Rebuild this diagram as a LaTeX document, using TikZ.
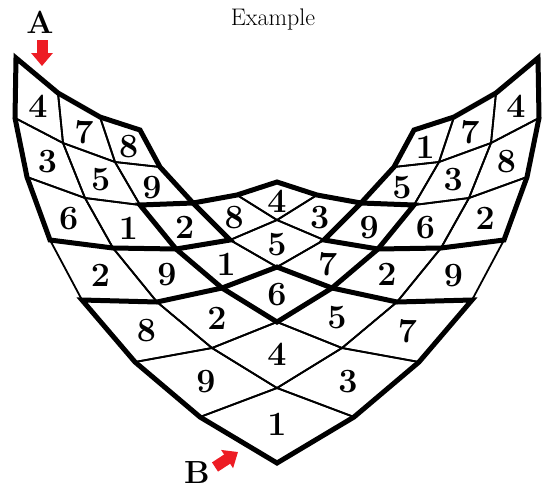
\documentclass[tikz,border=0pt]{standalone}
\usepackage{fontspec}
\usetikzlibrary{arrows.meta,calc}
\definecolor{arrowRed}{RGB}{237,28,36}

% grid corners of the left half (row i, column j, x, y in pixels)
\def\halfGrid{%
    0/0/277/463, 1/0/200/417, 1/1/277/388,
    2/0/135/362, 2/1/212/348, 2/2/277/322,
    3/0/82/300, 3/1/157/302, 3/2/222/288, 3/3/277/267,
    4/0/50/240, 4/1/113/248, 4/2/176/249, 4/3/230/240, 4/4/277/220,
    5/0/27/177, 5/1/85/198, 5/2/140/205, 5/3/193/203, 5/4/237/195, 5/5/277/182,
    6/0/15/118, 6/1/63/143, 6/2/115/162, 6/3/160/167,
    7/0/16/58, 7/1/58/93, 7/2/100/117, 7/3/140/130}

\begin{document}
\begin{tikzpicture}[
            x=1pt, y=-1pt,
            gridThin/.style={
                    draw=black,
                    line width=1.8pt,
                    line join=round
                },
            blockEdge/.style={
                    draw=black,
                    line width=5pt,
                    line join=miter
                },
            digit/.style={
                    font=\fontsize{34}{34}\selectfont\bfseries,
                    inner sep=0pt,
                    yshift=-3pt
                },
            letter/.style={
                    font=\fontsize{32}{32}\selectfont\bfseries,
                    inner sep=0pt,
                    anchor=base
                },
            title/.style={
                    font=\fontsize{24}{24}\selectfont,
                    inner sep=0pt,
                    anchor=base
                },
            marker/.style={
                    -{Triangle[length=13pt, width=21pt]},
                    color=arrowRed,
                    line width=11pt
                }
            ]
            \useasboundingbox (0,0) rectangle (551,488);

            % 1. Grid corners (left half, then mirrored)
            \foreach \i/\j/\x/\y in \halfGrid
                \coordinate (p-\i-\j) at (\x,\y);
            \begin{scope}[xshift=554pt, xscale=-1]
                \foreach \i/\j/\x/\y in \halfGrid
                    \coordinate (p-\j-\i) at (\x,\y);
            \end{scope}

            % 2. Cells with their numbers
            \foreach \i/\j/\val [evaluate=\i as \ia using int(\i+1), evaluate=\j as \ja using int(\j+1)] in {
                    0/0/1, 1/0/9, 2/0/8, 3/0/2, 4/0/6, 5/0/3, 6/0/4,
                    0/1/3, 1/1/4, 2/1/2, 3/1/9, 4/1/1, 5/1/5, 6/1/7,
                    0/2/7, 1/2/5, 2/2/6, 3/2/1, 4/2/2, 5/2/9, 6/2/8,
                    0/3/9, 0/4/2, 0/5/8, 0/6/4,
                    1/3/2, 1/4/6, 1/5/3, 1/6/7,
                    2/3/7, 2/4/9, 2/5/5, 2/6/1,
                    3/3/5, 3/4/3, 4/3/8, 4/4/4}{
                \draw[gridThin] (p-\i-\j) -- (p-\ia-\j) -- (p-\ia-\ja) -- (p-\i-\ja) -- cycle;
                \node[digit] (c-\i-\j) at ($0.25*(p-\i-\j)+0.25*(p-\ia-\j)+0.25*(p-\ia-\ja)+0.25*(p-\i-\ja)$) {\val};
            }

            % 3. Block outlines
            % bottom block
            \draw[blockEdge] (p-0-0) -- (p-1-0) -- (p-2-0) -- (p-3-0) -- (p-3-1) -- (p-3-2) -- (p-3-3)
            -- (p-2-3) -- (p-1-3) -- (p-0-3) -- (p-0-2) -- (p-0-1) -- cycle;
            % left block
            \draw[blockEdge] (p-4-0) -- (p-5-0) -- (p-6-0) -- (p-7-0) -- (p-7-1) -- (p-7-2) -- (p-7-3)
            -- (p-6-3) -- (p-5-3) -- (p-4-3) -- (p-4-2) -- (p-4-1) -- cycle;
            % right block
            \draw[blockEdge] (p-0-4) -- (p-0-5) -- (p-0-6) -- (p-0-7) -- (p-1-7) -- (p-2-7) -- (p-3-7)
            -- (p-3-6) -- (p-3-5) -- (p-3-4) -- (p-2-4) -- (p-1-4) -- cycle;
            % centre block
            \draw[blockEdge] (p-2-2) -- (p-3-2) -- (p-4-2) -- (p-5-2) -- (p-5-3) -- (p-5-4) -- (p-5-5)
            -- (p-4-5) -- (p-3-5) -- (p-2-5) -- (p-2-4) -- (p-2-3) -- cycle;

            % 4. Title and end labels
            \node[title] (title) at (273,25) {Example};
            \node[letter] (labelA) at (40,33) {A};
            \node[letter] (labelB) at (197,483) {B};

            % --- ARROWS ---
            \coordinate (startA) at (42,40);
            \coordinate (tipA) at (42,66);
            \coordinate (startB) at (215,467);
            \coordinate (tipB) at (238,452);
            \draw[marker] (startA) -- (tipA);
            \draw[marker] (startB) -- (tipB);

        \end{tikzpicture}
\end{document}
